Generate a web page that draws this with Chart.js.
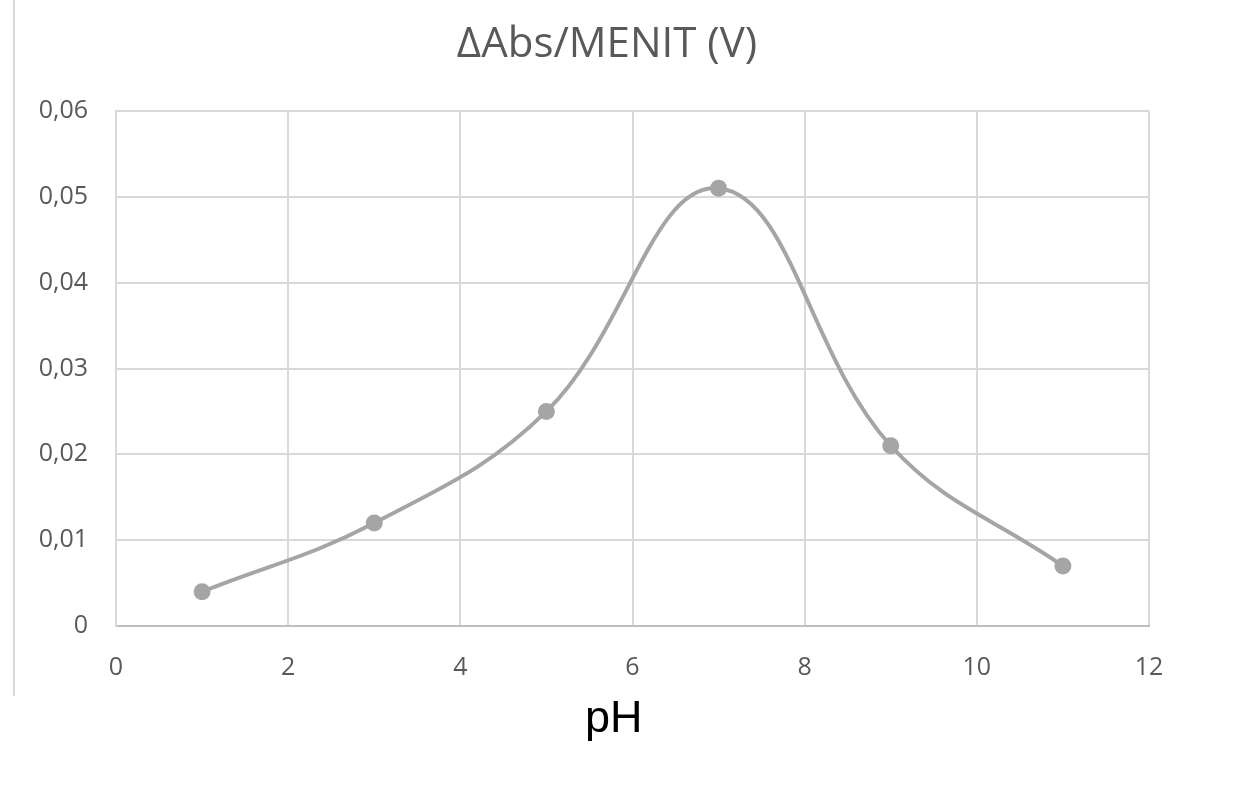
<!DOCTYPE html>
<html>
<head>
<meta charset="utf-8">
<script src="https://cdn.jsdelivr.net/npm/chart.js@4/dist/chart.umd.min.js"></script>
<style>
  html, body { margin: 0; padding: 0; background: #fff; }
  #wrap { position: relative; width: 1250px; height: 799px; }
  #edge { position: absolute; left: 13px; top: 0; width: 0; height: 696px; border-left: 2px solid #d9d9d9; }
</style>
</head>
<body>
<div id="wrap">
  <div id="edge"></div>
  <canvas id="myChart" width="1250" height="799"></canvas>
</div>
<script>
  // data
  const phValues = [1, 3, 5, 7, 9, 11]
  const absValues = [0.004, 0.012, 0.025, 0.051, 0.021, 0.007]
  const xTicks = [0, 2, 4, 6, 8, 10, 12]
  const yTicks = [0, 0.01, 0.02, 0.03, 0.04, 0.05, 0.06]
  const chartTitle = 'ΔAbs/MENIT (V)'

  const grey = '#a5a5a5'
  const gridColor = '#d9d9d9'
  const labelColor = '#595959'

  const points = phValues.map((x, i) => ({ x: x, y: absValues[i] }))

  // title sits a bit right of the plot centre, like the original sheet
  const titlePlugin = {
    id: 'sheetTitle',
    afterDraw(chart) {
      const c = chart.ctx
      c.save()
      c.fillStyle = labelColor
      c.font = '42px "Open Sans"'
      c.textAlign = 'center'
      c.textBaseline = 'middle'
      c.fillText(chartTitle, 607, 45)
      c.restore()
    }
  }

  const ctx = document.getElementById('myChart')
  const myChart = new Chart(ctx, {
    type: 'scatter',
    data: {
      datasets: [{
        data: points,
        showLine: true,
        tension: 0.4,
        borderColor: grey,
        borderWidth: 4,
        backgroundColor: grey,
        pointBackgroundColor: grey,
        pointBorderWidth: 0,
        pointRadius: 8.5
      }]
    },
    plugins: [titlePlugin],
    options: {
      responsive: false,
      animation: false,
      layout: { padding: { left: 0, right: 101, top: 111, bottom: 0 } },
      plugins: {
        legend: { display: false },
        tooltip: { enabled: false },
        title: { display: false }
      },
      scales: {
        x: {
          type: 'linear',
          min: 0,
          max: 12,
          afterBuildTicks: (axis) => { axis.ticks = xTicks.map(v => ({ value: v })) },
          afterFit: (axis) => { axis.height = 173 },
          grid: { color: gridColor, lineWidth: 2, drawTicks: false },
          border: { color: '#bfbfbf', width: 2 },
          ticks: {
            color: labelColor,
            font: { family: 'Open Sans', size: 25 },
            padding: 27
          },
          title: {
            display: true,
            text: 'pH   ',
            color: '#000',
            font: { family: 'Liberation Sans', size: 45 },
            padding: { top: 0, bottom: 52 }
          }
        },
        y: {
          min: 0,
          max: 0.06,
          afterBuildTicks: (axis) => { axis.ticks = yTicks.map(v => ({ value: v })) },
          afterFit: (axis) => { axis.width = 116 },
          grid: { color: gridColor, lineWidth: 2, drawTicks: false },
          border: { color: gridColor, width: 2 },
          ticks: {
            color: labelColor,
            font: { family: 'Open Sans', size: 25 },
            padding: 28,
            callback: (v) => v === 0 ? '0' : v.toFixed(2).replace('.', ',')
          }
        }
      }
    }
  })
</script>
</body>
</html>
